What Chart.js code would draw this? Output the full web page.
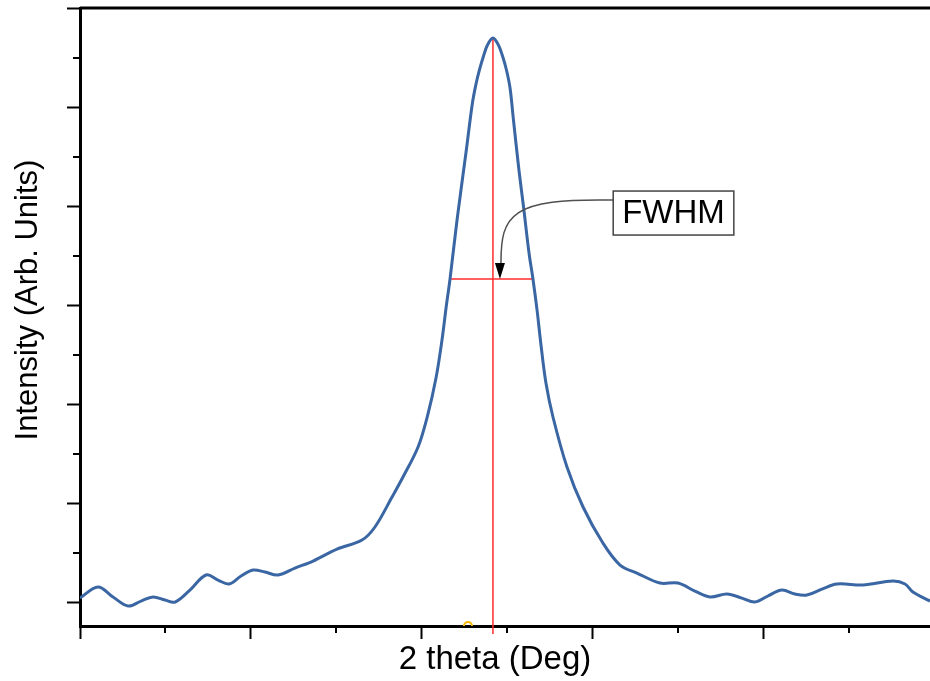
<!DOCTYPE html>
<html>
<head>
<meta charset="utf-8">
<title>FWHM</title>
<script src="https://cdn.jsdelivr.net/npm/chart.js@4.4.1/dist/chart.umd.min.js"></script>
<style>
  body { margin: 0; background: #fff; }
  canvas { display: block; }
</style>
</head>
<body>
<canvas id="chart" width="930" height="681"></canvas>
<script>
// 2 theta positions (arbitrary units, one unit per major tick) and intensity (arb.)
const theta = [0, 0.105, 0.193, 0.281, 0.357, 0.427, 0.497, 0.556, 0.643, 0.737,
  0.807, 0.871, 0.942, 1.012, 1.082, 1.158, 1.257, 1.363, 1.503, 1.649,
  1.725, 1.825, 1.889, 1.977, 2.032, 2.082, 2.117, 2.143, 2.164, 2.205,
  2.257, 2.295, 2.316, 2.336, 2.360, 2.383, 2.415, 2.447, 2.471, 2.494,
  2.515, 2.535, 2.567, 2.594, 2.626, 2.649, 2.673, 2.696, 2.725, 2.766,
  2.848, 2.942, 3.058, 3.158, 3.257, 3.392, 3.497, 3.596, 3.684, 3.784,
  3.871, 3.947, 4.023, 4.105, 4.181, 4.251, 4.339, 4.427, 4.579, 4.754,
  4.825, 4.871, 4.971];
const intensity = [0.040, 0.152, 0.051, -0.040, 0.010, 0.051, 0.020, 0, 0.121, 0.273,
  0.222, 0.182, 0.263, 0.323, 0.303, 0.273, 0.343, 0.414, 0.535, 0.626,
  0.758, 1.061, 1.263, 1.566, 1.879, 2.263, 2.646, 3.000, 3.263, 3.859,
  4.535, 5.040, 5.232, 5.374, 5.515, 5.626, 5.697, 5.626, 5.515, 5.374,
  5.192, 4.869, 4.364, 3.990, 3.525, 3.263, 2.949, 2.596, 2.212, 1.869,
  1.364, 0.960, 0.596, 0.374, 0.293, 0.192, 0.192, 0.111, 0.051, 0.081,
  0.040, 0, 0.061, 0.121, 0.081, 0.071, 0.131, 0.182, 0.172, 0.212,
  0.182, 0.101, 0.010];

// red guide lines
const peakLineX = [2.415, 2.415];
const peakLineY = [5.697, -0.323];
const halfLineX = [2.164, 2.655];
const halfLineY = [3.263, 3.263];

// small marker sitting on the axis
const markerX = [2.269];
const markerY = [-0.242];

// annotation
const fwhmLabel = 'FWHM';
const fwhmLabelAt = [3.471, 3.929];
const fwhmArrowTip = [2.456, 3.263];

// axis titles
const xTitle = '2 theta (Deg)';
const yTitle = 'Intensity (Arb. Units)';

// ticks
const majorX = [0, 1, 2, 3, 4];
const minorX = [0.5, 1.5, 2.5, 3.5, 4.5];
const majorY = [0, 1, 2, 3, 4, 5, 6];
const minorY = [0.5, 1.5, 2.5, 3.5, 4.5, 5.5];

const FONT = '"Liberation Sans", Arial, sans-serif';

const toPoints = (xs, ys) => xs.map((v, i) => ({x: v, y: ys[i]}));

const axisExtras = {
    id: 'axisExtras',
    afterDraw(chart) {
        const {ctx, chartArea: a, scales: {x, y}} = chart;
        ctx.save();
        ctx.strokeStyle = '#000';
        ctx.lineWidth = 2;
        ctx.beginPath();
        minorX.forEach(v => {
            const px = Math.round(x.getPixelForValue(v));
            ctx.moveTo(px, a.bottom);
            ctx.lineTo(px, a.bottom + 7);
        });
        minorY.forEach(v => {
            const py = Math.round(y.getPixelForValue(v));
            ctx.moveTo(a.left, py);
            ctx.lineTo(a.left - 7, py);
        });
        ctx.stroke();
        // top frame
        ctx.lineWidth = 3;
        ctx.beginPath();
        ctx.moveTo(a.left, a.top);
        ctx.lineTo(a.right, a.top);
        ctx.stroke();

        // axis titles (placed like the original, slightly off the axis centres)
        ctx.fillStyle = '#000';
        ctx.textAlign = 'center';
        ctx.textBaseline = 'middle';
        ctx.font = '33px ' + FONT;
        ctx.fillText(xTitle, a.left + 415, a.bottom + 34);
        ctx.translate(28, a.top + 292);
        ctx.rotate(-Math.PI / 2);
        ctx.font = '31px ' + FONT;
        ctx.fillText(yTitle, 0, 0);
        ctx.restore();
    }
};

const fwhmAnnotation = {
    id: 'fwhmAnnotation',
    afterDatasetsDraw(chart) {
        const {ctx, scales: {x, y}} = chart;
        const cx = x.getPixelForValue(fwhmLabelAt[0]);
        const cy = y.getPixelForValue(fwhmLabelAt[1]);
        const tx = x.getPixelForValue(fwhmArrowTip[0]);
        const ty = y.getPixelForValue(fwhmArrowTip[1]);
        ctx.save();
        ctx.font = '33px ' + FONT;
        const w = ctx.measureText(fwhmLabel).width + 18;
        const h = 44;
        const left = cx - w / 2;
        const sy = cy - 13;
        const headLen = 16;

        ctx.strokeStyle = '#505050';
        ctx.lineWidth = 1.5;
        ctx.beginPath();
        ctx.moveTo(left, sy);
        ctx.bezierCurveTo(tx + 10, sy - 2, tx + 1, sy + 15, tx + 1, ty - headLen);
        ctx.stroke();

        ctx.fillStyle = '#000';
        ctx.beginPath();
        ctx.moveTo(tx, ty);
        ctx.lineTo(tx - 5, ty - headLen);
        ctx.lineTo(tx + 5, ty - headLen);
        ctx.closePath();
        ctx.fill();

        ctx.fillStyle = '#fff';
        ctx.fillRect(left, cy - h / 2, w, h);
        ctx.strokeStyle = '#444';
        ctx.strokeRect(left, cy - h / 2, w, h);
        ctx.fillStyle = '#000';
        ctx.textAlign = 'center';
        ctx.textBaseline = 'middle';
        ctx.fillText(fwhmLabel, cx, cy + 1);
        ctx.restore();
    }
};

new Chart(document.getElementById('chart'), {
    type: 'line',
    data: {
        datasets: [{
            label: 'Intensity',
            data: toPoints(theta, intensity),
            borderColor: '#3a66a3',
            borderWidth: 3,
            pointRadius: 0,
            tension: 0.35,
        }, {
            label: 'Peak',
            data: toPoints(peakLineX, peakLineY),
            borderColor: '#ff2a2a',
            borderWidth: 1.5,
            pointRadius: 0,
            clip: false,
        }, {
            label: 'Half maximum',
            data: toPoints(halfLineX, halfLineY),
            borderColor: '#ff2a2a',
            borderWidth: 1.5,
            pointRadius: 0,
            clip: false,
        }, {
            label: 'Marker',
            data: toPoints(markerX, markerY),
            showLine: false,
            pointRadius: 4,
            pointBorderWidth: 2,
            pointBorderColor: '#f2b705',
            pointBackgroundColor: 'rgba(0,0,0,0)',
            clip: 0,
        }]
    },
    options: {
        responsive: false,
        animation: false,
        layout: {
            autoPadding: false,
            padding: {top: 8, right: 0, bottom: 0, left: 0}
        },
        scales: {
            x: {
                type: 'linear',
                min: 0,
                max: 4.971,
                afterBuildTicks: s => { s.ticks = majorX.map(v => ({value: v})); },
                afterFit: s => { s.height = 55; },
                ticks: {display: false},
                grid: {
                    drawOnChartArea: false,
                    tickLength: 13,
                    tickWidth: 2,
                    color: '#000',
                },
                border: {color: '#000', width: 3},
            },
            y: {
                type: 'linear',
                min: -0.242,
                max: 6,
                afterBuildTicks: s => { s.ticks = majorY.map(v => ({value: v})); },
                afterFit: s => { s.width = 80; },
                ticks: {display: false},
                grid: {
                    drawOnChartArea: false,
                    tickLength: 13,
                    tickWidth: 2,
                    color: '#000',
                },
                border: {color: '#000', width: 3},
            },
        },
        plugins: {
            legend: {display: false},
            tooltip: {enabled: false},
        },
    },
    plugins: [axisExtras, fwhmAnnotation],
});
</script>
</body>
</html>
